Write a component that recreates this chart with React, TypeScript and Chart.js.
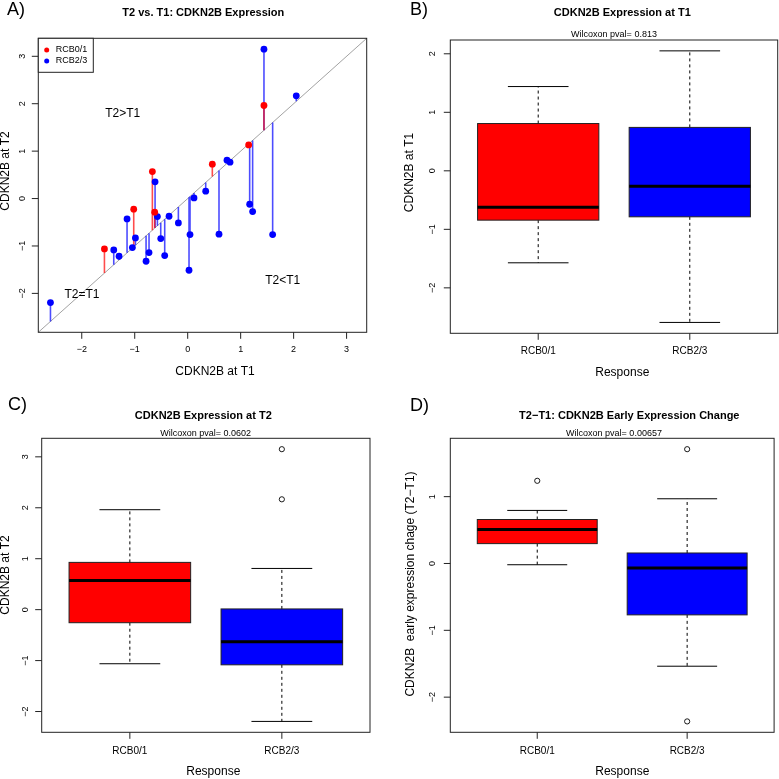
import React, { useEffect, useRef } from "react";
import { Chart, registerables } from "chart.js";
Chart.register(...registerables);

// ---------- data ----------
const groups = ["RCB0/1", "RCB2/3"];
const redT1 = [-1.572, -1.019, -0.667, -0.623, 0.465, 1.151, 1.44];
const redT2 = [-1.062, -0.225, 0.57, -0.288, 0.724, 1.132, 1.962];
const blueT1 = [-2.591, -1.396, -1.296, -1.145, -1.044, -0.987, -0.786, -0.73, -0.616, -0.572, -0.509, -0.434, -0.352, -0.176, 0.025, 0.044, 0.119, 0.34, 0.591, 0.742, 0.799, 1.17, 1.226, 1.44, 1.604, 2.05];
const blueT2 = [-2.194, -1.083, -1.217, -0.429, -1.034, -0.83, -1.322, -1.139, 0.352, -0.38, -0.844, -1.203, -0.373, -0.513, -1.512, -0.759, 0.014, 0.155, -0.752, 0.809, 0.767, -0.12, -0.274, 3.15, -0.759, 2.166];
const ticksA = [-2, -1, 0, 1, 2, 3];
const yTicksB = [-2, -1, 0, 1, 2];
const yTicksC = [-2, -1, 0, 1, 2, 3];
const yTicksD = [-2, -1, 0, 1];
const pvalB = "0.813";
const pvalC = "0.0602";
const pvalD = "0.00657";

const RED = "#ff0000";
const BLUE = "#0000ff";
const FONT = "'Liberation Sans', Arial, Helvetica, sans-serif";

const redDiff = redT2.map((v, i) => v - redT1[i]);
const blueDiff = blueT2.map((v, i) => v - blueT1[i]);

function ext(vals: number[]): [number, number] {
  const mn = Math.min(...vals), mx = Math.max(...vals);
  const d = (mx - mn) * 0.04;
  return [mn - d, mx + d];
}
function fivenum(v: number[]) {
  const x = [...v].sort((a, b) => a - b);
  const n = x.length;
  const n4 = Math.floor((n + 3) / 2) / 2;
  const d = [1, n4, (n + 1) / 2, n + 1 - n4, n];
  return d.map((i) => 0.5 * (x[Math.floor(i) - 1] + x[Math.ceil(i) - 1]));
}
function boxStats(v: number[]) {
  const f = fivenum(v);
  const iqr = f[3] - f[1];
  const lo = f[1] - 1.5 * iqr, hi = f[3] + 1.5 * iqr;
  const inside = v.filter((a) => a >= lo && a <= hi);
  return { q1: f[1], med: f[2], q3: f[3], wLo: Math.min(...inside), wHi: Math.max(...inside), out: v.filter((a) => a < lo || a > hi) };
}

function minus(n: number) {
  return n < 0 ? "\u2212" + Math.abs(n) : String(n);
}

function txt(ctx: CanvasRenderingContext2D, s: string, x: number, y: number, size: number, opts: any = {}) {
  ctx.save();
  ctx.fillStyle = "#000";
  ctx.font = `${opts.bold ? "bold " : ""}${size}px ${FONT}`;
  ctx.textAlign = opts.align || "center";
  ctx.textBaseline = "middle";
  ctx.translate(x, y);
  if (opts.rot) ctx.rotate(-Math.PI / 2);
  ctx.fillText(s, 0, 0);
  ctx.restore();
}

type Deco = {
  letter: [string, number, number];
  title: [string, number, number];
  sub?: [string, number, number];
  ylab: [string, number, number];
  xlab: [string, number, number];
  yTicks: number[];
  yTickX: number;
  xTicks: { v: number; label: string }[];
  xTickY: number;
  xTickSize: number;
  extra?: [string, number, number][];
  legend?: { w: number; h: number; items: { label: string; color: string }[] };
};

function decoPlugin(d: Deco) {
  return {
    id: "deco",
    afterDraw(chart: any) {
      const ctx = chart.ctx as CanvasRenderingContext2D;
      const a = chart.chartArea;
      const xs = chart.scales.x, ys = chart.scales.y;
      ctx.save();
      ctx.strokeStyle = "#222";
      ctx.lineWidth = 1;
      ctx.strokeRect(a.left, a.top, a.right - a.left, a.bottom - a.top);
      ctx.beginPath();
      for (const t of d.yTicks) {
        const py = ys.getPixelForValue(t);
        ctx.moveTo(a.left - 6.5, py);
        ctx.lineTo(a.left, py);
      }
      for (const t of d.xTicks) {
        const px = xs.getPixelForValue(t.v);
        ctx.moveTo(px, a.bottom);
        ctx.lineTo(px, a.bottom + 6.5);
      }
      ctx.stroke();
      ctx.restore();
      for (const t of d.yTicks) txt(ctx, minus(t), d.yTickX, ys.getPixelForValue(t), 9, { rot: true });
      for (const t of d.xTicks) txt(ctx, t.label, xs.getPixelForValue(t.v), d.xTickY, d.xTickSize);
      txt(ctx, d.letter[0], d.letter[1], d.letter[2], 18, { align: "left" });
      txt(ctx, d.title[0], d.title[1], d.title[2], 11, { bold: true });
      if (d.sub) txt(ctx, d.sub[0], d.sub[1], d.sub[2], 9);
      txt(ctx, d.ylab[0], d.ylab[1], d.ylab[2], 12, { rot: true });
      txt(ctx, d.xlab[0], d.xlab[1], d.xlab[2], 12);
      if (d.extra) for (const e of d.extra) txt(ctx, e[0], e[1], e[2], 12);
      const leg = d.legend;
      if (leg) {
        ctx.save();
        ctx.strokeStyle = "#222";
        ctx.lineWidth = 1;
        ctx.fillStyle = "#fff";
        ctx.fillRect(a.left, a.top, leg.w, leg.h);
        ctx.strokeRect(a.left, a.top, leg.w, leg.h);
        leg.items.forEach((it, i) => {
          const cy = a.top + 11.7 + i * 11;
          ctx.fillStyle = it.color;
          ctx.beginPath();
          ctx.arc(a.left + 8.4, cy, 2.5, 0, Math.PI * 2);
          ctx.fill();
          txt(ctx, it.label, a.left + 17.4, cy, 9, { align: "left" });
        });
        ctx.restore();
      }
    },
  };
}

type BoxSpec = { x: number; stats: ReturnType<typeof boxStats>; color: string };

function boxPlugin(boxes: BoxSpec[]) {
  return {
    id: "rbox",
    beforeDatasetsDraw(chart: any) {
      const ctx = chart.ctx as CanvasRenderingContext2D;
      const xs = chart.scales.x, ys = chart.scales.y;
      ctx.save();
      for (const b of boxes) {
        const s = b.stats;
        const xc = xs.getPixelForValue(b.x);
        const xl = xs.getPixelForValue(b.x - 0.4), xr = xs.getPixelForValue(b.x + 0.4);
        const cl = xs.getPixelForValue(b.x - 0.2), cr = xs.getPixelForValue(b.x + 0.2);
        const py = (v: number) => ys.getPixelForValue(v);
        ctx.strokeStyle = "#000";
        ctx.lineWidth = 1;
        ctx.setLineDash([3, 3]);
        ctx.beginPath();
        ctx.moveTo(xc, py(s.q3));
        ctx.lineTo(xc, py(s.wHi));
        ctx.moveTo(xc, py(s.q1));
        ctx.lineTo(xc, py(s.wLo));
        ctx.stroke();
        ctx.setLineDash([]);
        ctx.beginPath();
        ctx.moveTo(cl, py(s.wHi));
        ctx.lineTo(cr, py(s.wHi));
        ctx.moveTo(cl, py(s.wLo));
        ctx.lineTo(cr, py(s.wLo));
        ctx.stroke();
        ctx.fillStyle = b.color;
        ctx.fillRect(xl, py(s.q3), xr - xl, py(s.q1) - py(s.q3));
        ctx.strokeStyle = "#222";
        ctx.strokeRect(xl, py(s.q3), xr - xl, py(s.q1) - py(s.q3));
        ctx.strokeStyle = "#000";
        ctx.lineWidth = 3;
        ctx.beginPath();
        ctx.moveTo(xl, py(s.med));
        ctx.lineTo(xr, py(s.med));
        ctx.stroke();
        ctx.lineWidth = 1;
      }
      ctx.restore();
    },
  };
}

function baseOptions(pad: any, xr: [number, number], yr: [number, number]) {
  return {
    responsive: false,
    animation: false,
    events: [],
    layout: { padding: pad },
    scales: {
      x: { type: "linear", min: xr[0], max: xr[1], display: false },
      y: { type: "linear", min: yr[0], max: yr[1], display: false },
    },
    plugins: { legend: { display: false }, tooltip: { enabled: false } },
  };
}

function segs(t1: number[], t2: number[]) {
  const out: any[] = [];
  t1.forEach((x, i) => {
    out.push({ x, y: x }, { x, y: t2[i] }, { x, y: null });
  });
  return out;
}

function configA() {
  const r = ext([...redT1, ...redT2, ...blueT1, ...blueT2]);
  return {
    type: "scatter",
    data: {
      datasets: [
        { data: redT1.map((x, i) => ({ x, y: redT2[i] })), backgroundColor: RED, borderWidth: 0, pointRadius: 3.4, order: 0 },
        { data: blueT1.map((x, i) => ({ x, y: blueT2[i] })), backgroundColor: BLUE, borderWidth: 0, pointRadius: 3.4, order: 0 },
        { data: segs(redT1, redT2), showLine: true, spanGaps: false, borderColor: "rgba(255,0,0,0.7)", borderWidth: 1.6, pointRadius: 0, order: 1 },
        { data: segs(blueT1, blueT2), showLine: true, spanGaps: false, borderColor: "rgba(0,0,255,0.7)", borderWidth: 1.6, pointRadius: 0, order: 1 },
        { data: [{ x: r[0], y: r[0] }, { x: r[1], y: r[1] }], showLine: true, borderColor: "#8a8a8a", borderWidth: 0.8, pointRadius: 0, order: 2 },
      ],
    },
    options: baseOptions({ left: 38.3, top: 38.3, right: 23.3, bottom: 57.7 }, r, r),
    plugins: [
      decoPlugin({
        letter: ["A)", 7, 10],
        title: ["T2 vs. T1: CDKN2B Expression", 203.3, 13],
        ylab: ["CDKN2B at T2", 6, 171],
        xlab: ["CDKN2B at T1", 215, 371.5],
        yTicks: ticksA,
        yTickX: 22.3,
        xTicks: ticksA.map((v) => ({ v, label: minus(v) })),
        xTickY: 350,
        xTickSize: 9,
        extra: [
          ["T2>T1", 122.7, 113.7],
          ["T2<T1", 282.7, 280.3],
          ["T2=T1", 82, 294.7],
        ],
        legend: { w: 55, h: 34, items: [{ label: groups[0], color: RED }, { label: groups[1], color: BLUE }] },
      }),
    ],
  };
}

function configBox(redV: number[], blueV: number[], pad: any, deco: Deco) {
  const yr = ext([...redV, ...blueV]);
  const sR = boxStats(redV), sB = boxStats(blueV);
  const outs = [...sR.out.map((y) => ({ x: 1, y })), ...sB.out.map((y) => ({ x: 2, y }))];
  return {
    type: "scatter",
    data: {
      datasets: [{ data: outs, pointRadius: 2.6, borderWidth: 0.9, borderColor: "#000", backgroundColor: "rgba(0,0,0,0)" }],
    },
    options: baseOptions(pad, [0.42, 2.58], yr),
    plugins: [
      boxPlugin([
        { x: 1, stats: sR, color: RED },
        { x: 2, stats: sB, color: BLUE },
      ]),
      decoPlugin(deco),
    ],
  };
}

const catTicks = groups.map((label, i) => ({ v: i + 1, label }));

function configB() {
  return configBox(redT1, blueT1, { left: 60.3, top: 40, right: 1.3, bottom: 56.7 }, {
    letter: ["B)", 20, 10],
    title: ["CDKN2B Expression at T1", 232.3, 13.3],
    sub: ["Wilcoxon pval= " + pvalB, 224, 34.3],
    ylab: ["CDKN2B at T1", 20, 172.5],
    xlab: ["Response", 232.3, 372.7],
    yTicks: yTicksB,
    yTickX: 42.7,
    xTicks: catTicks,
    xTickY: 351,
    xTickSize: 10,
  });
}
function configC() {
  return configBox(redT2, blueT2, { left: 41.7, top: 48.3, right: 20, bottom: 46.7 }, {
    letter: ["C)", 8, 15],
    title: ["CDKN2B Expression at T2", 203.3, 26],
    sub: ["Wilcoxon pval= " + pvalC, 205.7, 43.7],
    ylab: ["CDKN2B at T2", 6, 185],
    xlab: ["Response", 213.3, 381.7],
    yTicks: yTicksC,
    yTickX: 26,
    xTicks: catTicks,
    xTickY: 361,
    xTickSize: 10,
  });
}
function configD() {
  return configBox(redDiff, blueDiff, { left: 60.3, top: 48.3, right: 1.3, bottom: 46.7 }, {
    letter: ["D)", 20, 16.5],
    title: ["T2\u2212T1: CDKN2B Early Expression Change", 239.3, 26],
    sub: ["Wilcoxon pval= " + pvalD, 224, 43.7],
    ylab: ["CDKN2B  early expression chage (T2\u2212T1)", 20.5, 194],
    xlab: ["Response", 232.3, 381.7],
    yTicks: yTicksD,
    yTickX: 42.7,
    xTicks: catTicks,
    xTickY: 361,
    xTickSize: 10,
  });
}

function Panel(props: { left: number; top: number; width: number; height: number; make: () => any }) {
  const ref = useRef<HTMLCanvasElement>(null);
  useEffect(() => {
    const c = new Chart(ref.current as HTMLCanvasElement, props.make() as any);
    return () => c.destroy();
  }, []);
  return (
    <canvas
      ref={ref}
      width={props.width}
      height={props.height}
      style={{ position: "absolute", left: props.left, top: props.top, width: props.width, height: props.height }}
    />
  );
}

export default function App() {
  return (
    <div style={{ position: "absolute", left: 0, top: 0, width: 779, height: 779, background: "#fff", overflow: "hidden" }}>
      <Panel left={0} top={0} width={390} height={390} make={configA} />
      <Panel left={390} top={0} width={389} height={390} make={configB} />
      <Panel left={0} top={390} width={390} height={389} make={configC} />
      <Panel left={390} top={390} width={389} height={389} make={configD} />
    </div>
  );
}
